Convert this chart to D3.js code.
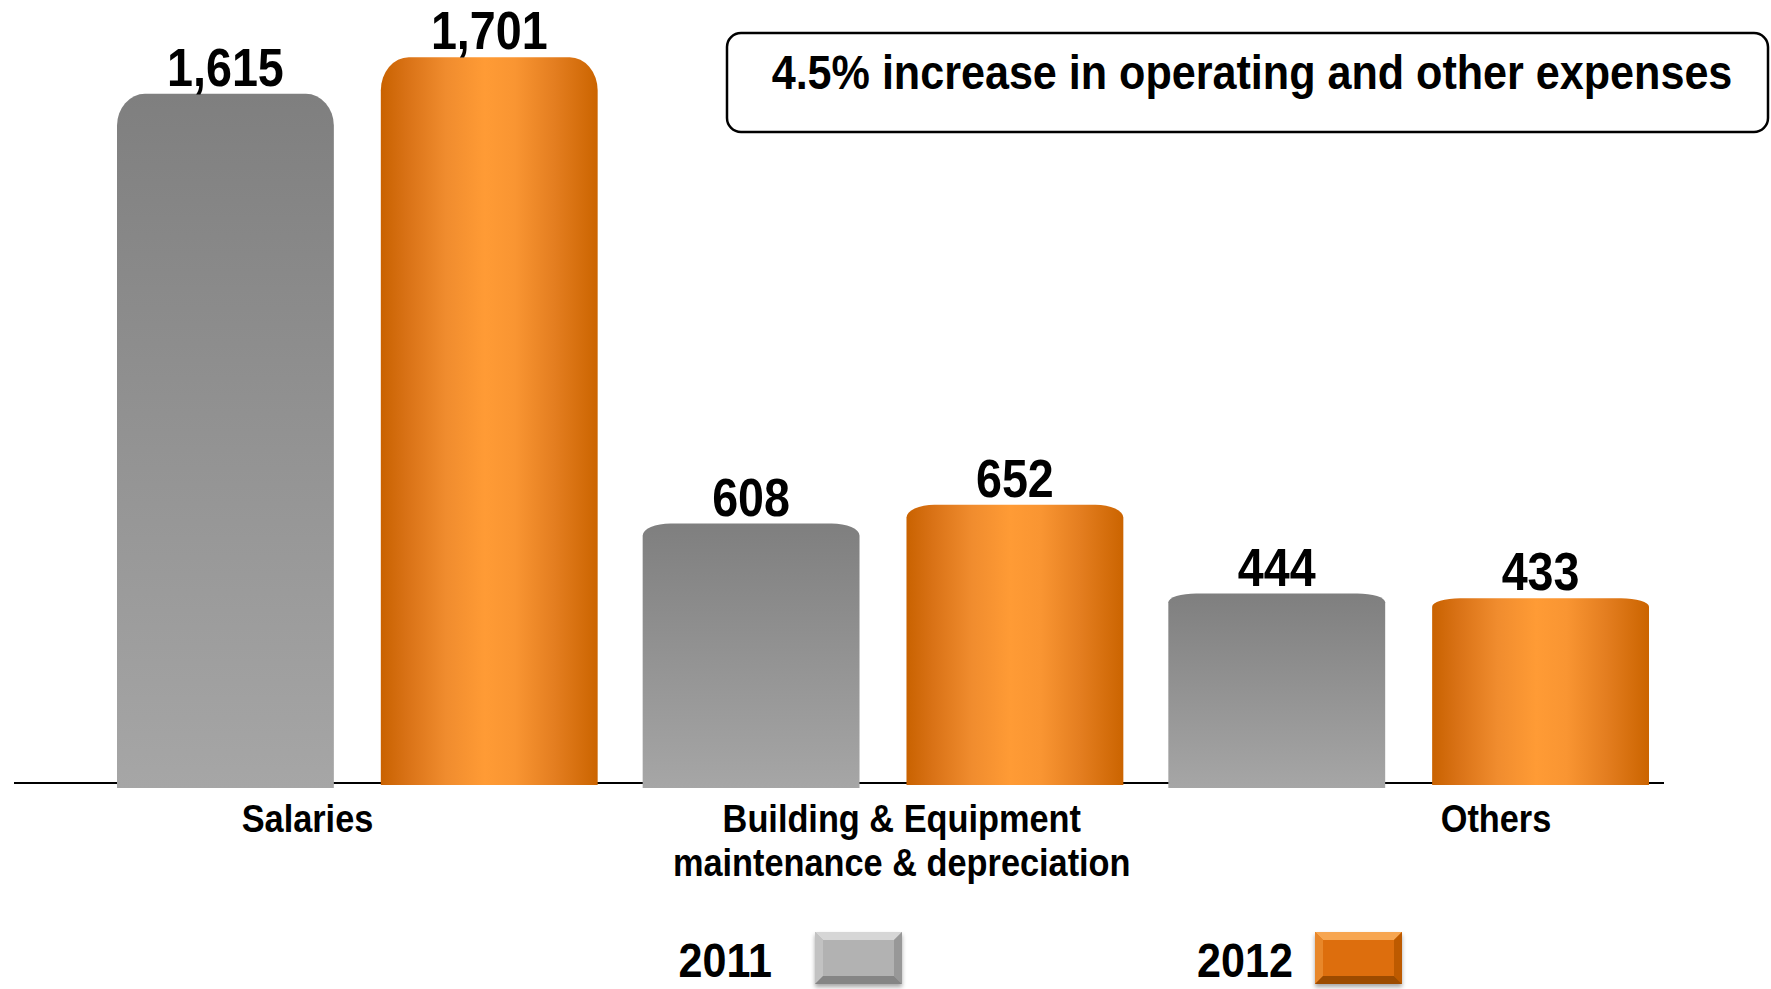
<!DOCTYPE html>
<html>
<head>
<meta charset="utf-8">
<script src="https://cdnjs.cloudflare.com/ajax/libs/d3/7.8.5/d3.min.js"></script>
<style>
  body { margin: 0; background: #fff; }
  text { font-family: "Liberation Sans", Arial, sans-serif; font-weight: bold; fill: #000; }
</style>
</head>
<body>
<svg id="chart" width="1771" height="989"></svg>
<script>
// data
const categories = ['Salaries', 'Building & Equipment maintenance & depreciation', 'Others']
const categoryLines = [['Salaries'], ['Building & Equipment', 'maintenance & depreciation'], ['Others']]
const years = ['2011', '2012']
const values2011 = [1615, 608, 444]
const values2012 = [1701, 652, 433]
const headline = '4.5% increase in operating and other expenses'

const baseY = 783
const squeeze = 0.88 // text in the original is a bit narrow

let svg = d3.select('#chart')
let defs = svg.append('defs')

// gray bars go dark at the top to light at the bottom
let gGray = defs.append('linearGradient').attr('id', 'gray').attr('x1', 0).attr('y1', 0).attr('x2', 0).attr('y2', 1)
gGray.append('stop').attr('offset', '0%').attr('stop-color', '#7f7f7f')
gGray.append('stop').attr('offset', '100%').attr('stop-color', '#a6a6a6')

// orange bars are shaded like a cylinder
let gOrange = defs.append('linearGradient').attr('id', 'orange').attr('x1', 0).attr('y1', 0).attr('x2', 1).attr('y2', 0)
;[[0, '#c96200'], [0.12, '#d97216'], [0.3, '#f08c2e'], [0.48, '#ff9b35'], [0.62, '#f99532'], [0.8, '#e47e20'], [1, '#cb6400']]
  .forEach(s => gOrange.append('stop').attr('offset', s[0]).attr('stop-color', s[1]))

let shadow = defs.append('filter').attr('id', 'shadow').attr('x', '-20%').attr('y', '-20%').attr('width', '140%').attr('height', '150%')
shadow.append('feDropShadow').attr('dx', 0).attr('dy', 3).attr('stdDeviation', 2).attr('flood-color', '#000').attr('flood-opacity', 0.35)

let y = d3.scaleLinear().domain([0, 1835]).range([baseY, 0])

let x0 = d3.scaleBand()
  .domain(categories)
  .range([94.5, 1671.5])
  .paddingInner(0.0856)
  .paddingOuter(0.0428)

let x1 = d3.scaleBand()
  .domain(years)
  .range([0, x0.bandwidth()])
  .paddingInner(0.178)

let labelX = d3.scalePoint().domain(categories).range([307.5, 1496])

let fills = { '2011': 'url(#gray)', '2012': 'url(#orange)' }

let rows = []
categories.forEach((c, i) => {
  rows.push({ cat: c, year: '2011', value: values2011[i] })
  rows.push({ cat: c, year: '2012', value: values2012[i] })
})

// baseline
svg.append('line')
  .attr('x1', 14).attr('x2', 1664)
  .attr('y1', baseY).attr('y2', baseY)
  .attr('stroke', '#000').attr('stroke-width', 2)

let topRounded = (d) => {
  let x = x0(d.cat) + x1(d.year)
  let bw = x1.bandwidth()
  let yt = y(d.value)
  let yb = baseY + (d.year === '2011' ? 5 : 2)
  let rx = 28
  let ry = (baseY - yt) * 0.046
  return `M${x},${yb} L${x},${yt + ry} A${rx},${ry} 0 0 1 ${x + rx},${yt} ` +
    `L${x + bw - rx},${yt} A${rx},${ry} 0 0 1 ${x + bw},${yt + ry} L${x + bw},${yb} Z`
}

svg.selectAll('path.bar')
  .data(rows)
  .enter()
  .append('path')
  .attr('class', 'bar')
  .attr('d', topRounded)
  .attr('fill', d => fills[d.year])

// value labels
svg.selectAll('text.value')
  .data(rows)
  .enter()
  .append('text')
  .attr('class', 'value')
  .attr('transform', d => `translate(${x0(d.cat) + x1(d.year) + x1.bandwidth() / 2},${y(d.value) - 8}) scale(${squeeze},1)`)
  .attr('text-anchor', 'middle')
  .attr('font-size', 53)
  .text(d => d3.format(',')(d.value))

// category labels
categories.forEach((c, i) => {
  categoryLines[i].forEach((line, j) => {
    svg.append('text')
      .attr('transform', `translate(${labelX(c)},${832 + j * 44}) scale(${squeeze},1)`)
      .attr('text-anchor', 'middle')
      .attr('font-size', 39)
      .text(line)
  })
})

// headline box
svg.append('rect')
  .attr('x', 727).attr('y', 33)
  .attr('width', 1041).attr('height', 99)
  .attr('rx', 14)
  .attr('fill', '#fff')
  .attr('stroke', '#000').attr('stroke-width', 2.5)

svg.append('text')
  .attr('transform', `translate(1252,89) scale(${squeeze},1)`)
  .attr('text-anchor', 'middle')
  .attr('font-size', 49)
  .text(headline)

// legend with bevelled keys
let legendColors = {
  '2011': { main: '#b2b2b2', top: '#d6d6d6', left: '#c2c2c2', right: '#989898', bottom: '#858585' },
  '2012': { main: '#dd6e08', top: '#f7a651', left: '#e8872a', right: '#bd5a00', bottom: '#9c4c00' }
}
let legendX = d3.scalePoint().domain(years).range([815, 1315])
let legendTextX = d3.scalePoint().domain(years).range([772, 1293])
let kw = 87, kh = 52, bv = 8, ky = 932

years.forEach(yr => {
  let kx = legendX(yr)
  let col = legendColors[yr]
  let g = svg.append('g').attr('filter', 'url(#shadow)')
  g.append('rect').attr('x', kx).attr('y', ky).attr('width', kw).attr('height', kh).attr('fill', col.main)
  let faces = [
    { pts: [[kx, ky], [kx + kw, ky], [kx + kw - bv, ky + bv], [kx + bv, ky + bv]], c: col.top },
    { pts: [[kx, ky], [kx + bv, ky + bv], [kx + bv, ky + kh - bv], [kx, ky + kh]], c: col.left },
    { pts: [[kx + kw, ky], [kx + kw, ky + kh], [kx + kw - bv, ky + kh - bv], [kx + kw - bv, ky + bv]], c: col.right },
    { pts: [[kx, ky + kh], [kx + bv, ky + kh - bv], [kx + kw - bv, ky + kh - bv], [kx + kw, ky + kh]], c: col.bottom }
  ]
  faces.forEach(f => {
    g.append('polygon').attr('points', f.pts.map(p => p.join(',')).join(' ')).attr('fill', f.c)
  })

  svg.append('text')
    .attr('transform', `translate(${legendTextX(yr)},977) scale(${squeeze},1)`)
    .attr('text-anchor', 'end')
    .attr('font-size', 49)
    .text(yr)
})
</script>
</body>
</html>
